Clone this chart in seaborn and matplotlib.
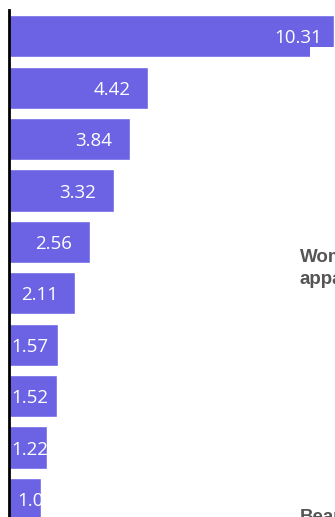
import matplotlib
matplotlib.use("Agg")
import matplotlib.pyplot as plt
from matplotlib.patches import Rectangle
import pandas as pd
import seaborn as sns

# Ranked values, largest first
ranks = ["1", "2", "3", "4", "5", "6", "7", "8", "9", "10"]
values = [10.31, 4.42, 3.84, 3.32, 2.56, 2.11, 1.57, 1.52, 1.22, 1.0]
value_labels = ["10.31", "4.42", "3.84", "3.32", "2.56", "2.11", "1.57", "1.52", "1.22", "1.0"]

# Category names of the neighbouring panel
side_labels = ["Women's", "apparel", "Beauty"]

BAR = "#6b63e4"
W, H = 335, 517

sns.set_theme(style="white")

fig = plt.figure(figsize=(W / 100, H / 100), dpi=100)

px_per_unit = 31.5      # horizontal pixels per value unit
band = 51.4             # vertical pixels per bar slot
x_left, y_top = 9, 10   # axes origin in pixels
xmax = 11
ymin, ymax = -0.512, len(values) - 0.5
ax_h = (ymax - ymin) * band
ax = fig.add_axes([x_left / W, 1 - (y_top + ax_h) / H,
                   xmax * px_per_unit / W, ax_h / H])

df = pd.DataFrame({"rank": ranks, "value": values})
sns.barplot(data=df, x="value", y="rank", orient="h", color=BAR,
            saturation=1, width=0.82, ax=ax)

ax.set_xlim(0, xmax)
ax.set_ylim(ymax, ymin)
for side in ["top", "right", "bottom"]:
    ax.spines[side].set_visible(False)
ax.spines["left"].set_color("black")
ax.spines["left"].set_linewidth(2)
ax.spines["left"].set_zorder(4)
ax.set_xticks([])
ax.set_yticks([])
ax.set_xlabel("")
ax.set_ylabel("")

# Value labels inside the bars, clipped to each bar
for bar, lab, v in zip(ax.patches, value_labels, values):
    cx = max(v - 36 / px_per_unit, 21 / px_per_unit)
    t = ax.text(cx, bar.get_y() + bar.get_height() / 2, lab,
                ha="center", va="center_baseline", color="white",
                fontsize=13.5, family="Open Sans", zorder=5)
    t.set_clip_path(bar)

# White backing of the neighbouring panel
fig.add_artist(Rectangle((310 / W, 0), (W - 310) / W, 1 - 47 / H,
                         transform=fig.transFigure, facecolor="white",
                         edgecolor="none", zorder=5))

# Labels of the neighbouring panel
for lab, base in zip(side_labels, [262, 284, 522]):
    fig.text(300 / W, 1 - base / H, lab, ha="left", va="baseline",
             fontsize=13.5, fontweight="bold", color="#555555",
             family="Liberation Sans", zorder=6)

fig.savefig("out.png", dpi=100)
